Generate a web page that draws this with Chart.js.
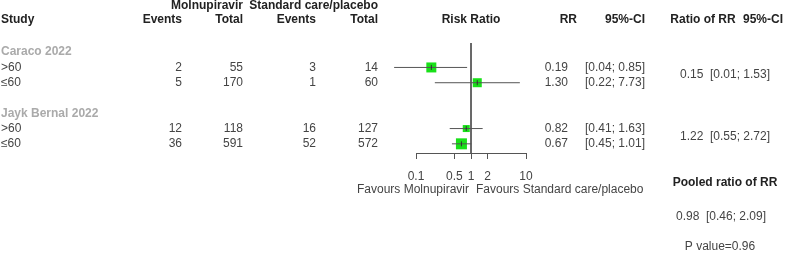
<!DOCTYPE html>
<html>
<head>
<meta charset="utf-8">
<script src="https://cdn.jsdelivr.net/npm/chart.js@4/dist/chart.umd.min.js"></script>
<style>
  html, body { margin: 0; padding: 0; background: #fff; }
  #wrap { width: 787px; height: 255px; }
</style>
</head>
<body>
<div id="wrap"><canvas id="forest"></canvas></div>
<script>
// study data
const studies = ["Caraco 2022", "Jayk Bernal 2022"];
const subgroups = [">60", "≤60", ">60", "≤60"];
const eventsMol = [2, 5, 12, 36];
const totalMol = [55, 170, 118, 591];
const eventsCtrl = [3, 1, 16, 52];
const totalCtrl = [14, 60, 127, 572];
const rr = [0.19, 1.30, 0.82, 0.67];
const rrLower = [0.04, 0.22, 0.41, 0.45];
const rrUpper = [0.85, 7.73, 1.63, 1.01];
const boxSize = [10, 9, 7, 11]; // square side, px (study weight)
const ratioRR = [0.15, 1.22];
const ratioLower = [0.01, 0.55];
const ratioUpper = [1.53, 2.72];
const pooledRatio = 0.98;
const pooledLower = 0.46;
const pooledUpper = 2.09;
const pValue = 0.96;
const xTicks = [0.1, 0.5, 1, 2, 10];

// row layout (row units on the y scale)
const studyRows = [0, 4];
const subRows = [1, 2, 5, 6];
const Y_MIN = -0.6, Y_MAX = 6.6;

const fmt = (v) => v.toFixed(2);
const ci = (l, u) => "[" + fmt(l) + "; " + fmt(u) + "]";

const ciSets = rr.map((v, i) => ({
  type: "line",
  data: [{ x: rrLower[i], y: subRows[i] }, { x: rrUpper[i], y: subRows[i] }],
  borderColor: "#555",
  borderWidth: 1,
  pointRadius: 0,
  clip: false,
  order: 1,
}));

const textPlugin = {
  id: "forestText",
  afterDraw(chart) {
    const ctx = chart.ctx;
    const ys = chart.scales.y;
    const Y = (r) => ys.getPixelForValue(r);
    const FONT = "12px 'Liberation Sans', Arial, sans-serif";
    const BOLD = "bold 12px 'Liberation Sans', Arial, sans-serif";
    ctx.save();
    ctx.textBaseline = "middle";
    const put = (t, x, y, align, font, color) => {
      ctx.font = font;
      ctx.fillStyle = color;
      ctx.textAlign = align;
      ctx.fillText(t, x, y);
    };
    // headers
    put("Molnupiravir", 243, 6, "right", BOLD, "#222");
    put("Standard care/placebo", 378, 6, "right", BOLD, "#222");
    put("Study", 1, 20, "left", BOLD, "#222");
    put("Events", 182, 20, "right", BOLD, "#222");
    put("Total", 243, 20, "right", BOLD, "#222");
    put("Events", 316, 20, "right", BOLD, "#222");
    put("Total", 378, 20, "right", BOLD, "#222");
    put("Risk Ratio", 471, 20, "center", BOLD, "#222");
    put("RR", 577, 20, "right", BOLD, "#222");
    put("95%-CI", 645, 20, "right", BOLD, "#222");
    put("Ratio of RR", 703, 20, "center", BOLD, "#222");
    put("95%-CI", 743, 20, "left", BOLD, "#222");

    studies.forEach((s, k) => put(s, 1, Y(studyRows[k]), "left", BOLD, "#aaa"));
    subgroups.forEach((s, i) => {
      const y = Y(subRows[i]);
      put(s, 1, y, "left", FONT, "#444");
      put(String(eventsMol[i]), 182, y, "right", FONT, "#444");
      put(String(totalMol[i]), 243, y, "right", FONT, "#444");
      put(String(eventsCtrl[i]), 316, y, "right", FONT, "#444");
      put(String(totalCtrl[i]), 378, y, "right", FONT, "#444");
      put(fmt(rr[i]), 568, y, "right", FONT, "#444");
      put(ci(rrLower[i], rrUpper[i]), 645, y, "right", FONT, "#444");
    });
    ratioRR.forEach((v, k) => {
      const y = (Y(subRows[2 * k]) + Y(subRows[2 * k + 1])) / 2;
      put(fmt(v) + "  " + ci(ratioLower[k], ratioUpper[k]), 725, y, "center", FONT, "#444");
    });
    put("Favours Molnupiravir", 469, 190, "right", FONT, "#444");
    put("Favours Standard care/placebo", 476, 190, "left", FONT, "#444");
    put("Pooled ratio of RR", 725, 183, "center", BOLD, "#222");
    put(fmt(pooledRatio) + "  " + ci(pooledLower, pooledUpper), 721, 217, "center", FONT, "#444");
    put("P value=" + pValue, 720, 247, "center", FONT, "#444");
    ctx.restore();
  },
};

new Chart(document.getElementById("forest"), {
  type: "scatter",
  data: {
    datasets: [
      {
        type: "line",
        data: [{ x: 1, y: Y_MIN }, { x: 1, y: Y_MAX }],
        borderColor: "#555",
        borderWidth: 1,
        pointRadius: 0,
        clip: false,
        order: 3,
      },
      {
        data: rr.map((v, i) => ({ x: v, y: subRows[i] })),
        pointStyle: "rect",
        pointRadius: boxSize.map((s) => s / 2 / Math.SQRT1_2),
        backgroundColor: "#18e018",
        borderColor: "#18e018",
        borderWidth: 0,
        clip: false,
        order: 2,
      },
      ...ciSets,
      {
        data: rr.map((v, i) => ({ x: v, y: subRows[i] })),
        pointStyle: "line",
        rotation: 90,
        pointRadius: 2.5,
        borderColor: "#333",
        borderWidth: 1,
        clip: false,
        order: 0,
      },
    ],
  },
  options: {
    responsive: true,
    maintainAspectRatio: false,
    animation: false,
    events: [],
    layout: { padding: { left: 416, right: 261, top: 43, bottom: 0 } },
    plugins: { legend: { display: false }, tooltip: { enabled: false } },
    scales: {
      x: {
        type: "logarithmic",
        min: 0.1,
        max: 10,
        afterBuildTicks: (s) => { s.ticks = xTicks.map((v) => ({ value: v })); },
        afterFit: (s) => { s.height = 102; },
        ticks: {
          autoSkip: false,
          maxRotation: 0,
          padding: 10,
          color: "#444",
          font: { family: "'Liberation Sans', Arial, sans-serif", size: 12 },
          callback: (v) => String(v),
        },
        grid: { drawOnChartArea: false, drawTicks: true, tickLength: 6, color: "#555" },
        border: { display: true, color: "#555" },
      },
      y: {
        type: "linear",
        display: false,
        reverse: true,
        min: Y_MIN,
        max: Y_MAX,
      },
    },
  },
  plugins: [textPlugin],
});
</script>
</body>
</html>
